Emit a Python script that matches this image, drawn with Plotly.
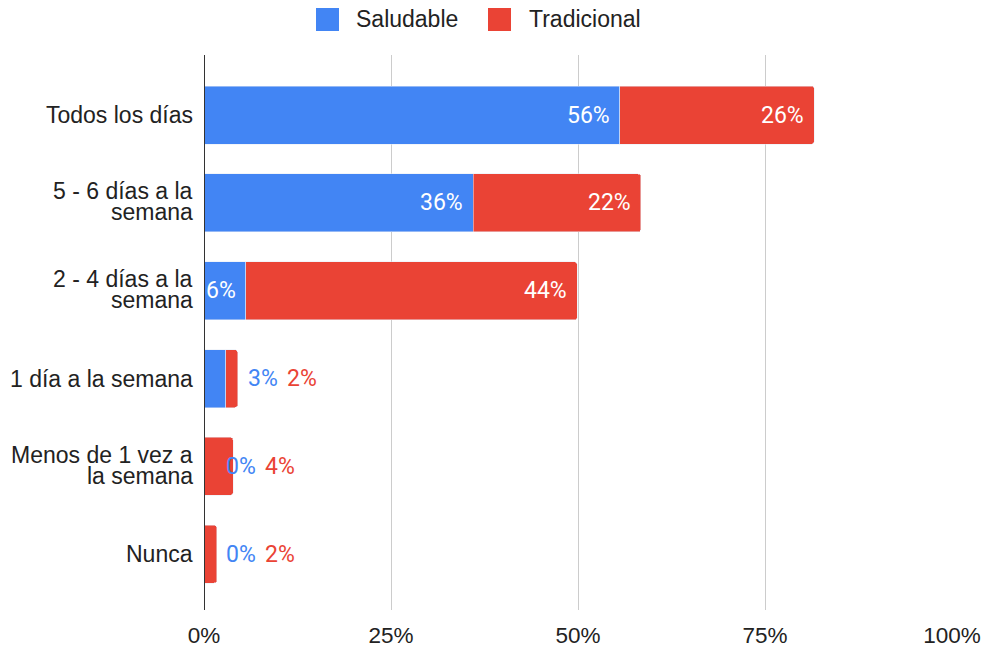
import plotly.graph_objects as go

# Frequency categories (top to bottom)
categories = [
    "Todos los días",
    "5 - 6 días a la<br>semana",
    "2 - 4 días a la<br>semana",
    "1 día a la semana",
    "Menos de 1 vez a<br>la semana",
    "Nunca",
]
saludable = [55.6, 36.0, 5.6, 2.9, 0.0, 0.0]
tradicional = [26.0, 22.4, 44.3, 1.6, 3.9, 1.7]
series_names = ["Saludable", "Tradicional"]
tick_vals = [0, 25, 50, 75, 100]
tick_text = ["0%", "25%", "50%", "75%", "100%"]

BLUE = "#4285F4"
RED = "#EA4335"
TEXT = "#222222"
LABEL_FONT = "Roboto, Arial, sans-serif"
AXIS_FONT = "Arial, Liberation Sans, sans-serif"
INSIDE_MIN = 5.0  # segments narrower than this get their labels outside

W, H = 985, 649
ML, MR, MT, MB = 204, 33, 55, 39
PW, PH = W - ML - MR, H - MT - MB


def px_x(px):
    return (px - ML) / PW


def px_y(py):
    return (H - MB - py) / PH


fig = go.Figure()
fig.add_bar(y=categories, x=saludable, orientation="h", marker_color=BLUE,
            name=series_names[0], showlegend=False)
fig.add_bar(y=categories, x=tradicional, orientation="h", marker_color=RED,
            name=series_names[1], showlegend=False)

annotations = []

# Value labels: white inside wide segments, coloured beside narrow ones
for i, cat in enumerate(categories):
    s, t = saludable[i], tradicional[i]
    if s >= INSIDE_MIN and t >= INSIDE_MIN:
        annotations.append(dict(x=s, y=cat, text=f"{s:.0f}%", xanchor="right",
                                xshift=-8, showarrow=False,
                                font=dict(family=LABEL_FONT, size=23, color="white")))
        annotations.append(dict(x=s + t, y=cat, text=f"{t:.0f}%", xanchor="right",
                                xshift=-8, showarrow=False,
                                font=dict(family=LABEL_FONT, size=23, color="white")))
    else:
        annotations.append(dict(x=s, y=cat, text=f"{s:.0f}%", xanchor="left",
                                xshift=20, showarrow=False,
                                font=dict(family=LABEL_FONT, size=23, color=BLUE)))
        annotations.append(dict(x=s, y=cat, text=f"{t:.0f}%", xanchor="left",
                                xshift=59, showarrow=False,
                                font=dict(family=LABEL_FONT, size=23, color=RED)))

# Category labels, one annotation per line for tight line spacing
for cat in categories:
    lines = cat.split("<br>")
    shifts = [0] if len(lines) == 1 else [11.5, -9.5]
    for line, dy in zip(lines, shifts):
        annotations.append(dict(xref="paper", x=0, y=cat, text=line,
                                xanchor="right", yanchor="middle", xshift=-9,
                                yshift=dy, showarrow=False,
                                font=dict(family=AXIS_FONT, size=23, color=TEXT)))

# Legend drawn as swatches + labels across the top
shapes = [dict(type="line", xref="x", yref="paper", x0=0, x1=0, y0=0, y1=1,
               line=dict(color="#333333", width=2))]
legend_items = [(series_names[0], BLUE, 316, 354), (series_names[1], RED, 488, 527)]
for name, color, sq_left, txt_left in legend_items:
    shapes.append(dict(type="rect", xref="paper", yref="paper",
                       x0=px_x(sq_left), x1=px_x(sq_left + 23),
                       y0=px_y(31), y1=px_y(8),
                       fillcolor=color, line=dict(width=0)))
    annotations.append(dict(xref="paper", yref="paper", x=px_x(txt_left), y=px_y(19.5),
                            text=name, xanchor="left", yanchor="middle",
                            showarrow=False,
                            font=dict(family=AXIS_FONT, size=23, color=TEXT)))

fig.update_layout(
    barmode="stack",
    bargap=0.34,
    barcornerradius=3,
    width=W,
    height=H,
    margin=dict(l=ML, r=MR, t=MT, b=MB),
    plot_bgcolor="white",
    paper_bgcolor="white",
    font=dict(family=AXIS_FONT, size=23, color=TEXT),
    showlegend=False,
    annotations=annotations,
    shapes=shapes,
    xaxis=dict(range=[0, 100], tickvals=tick_vals, ticktext=tick_text,
               showgrid=True, gridcolor="#cccccc", gridwidth=1,
               zeroline=False, ticks="outside", ticklen=5, tickcolor="white",
               showline=False, fixedrange=True, automargin=False,
               tickfont=dict(size=22.5)),
    yaxis=dict(categoryorder="array", categoryarray=categories,
               range=[5.635, -0.685], showgrid=False, zeroline=False,
               showticklabels=False, showline=False, automargin=False),
)

fig.write_html("out.html")
